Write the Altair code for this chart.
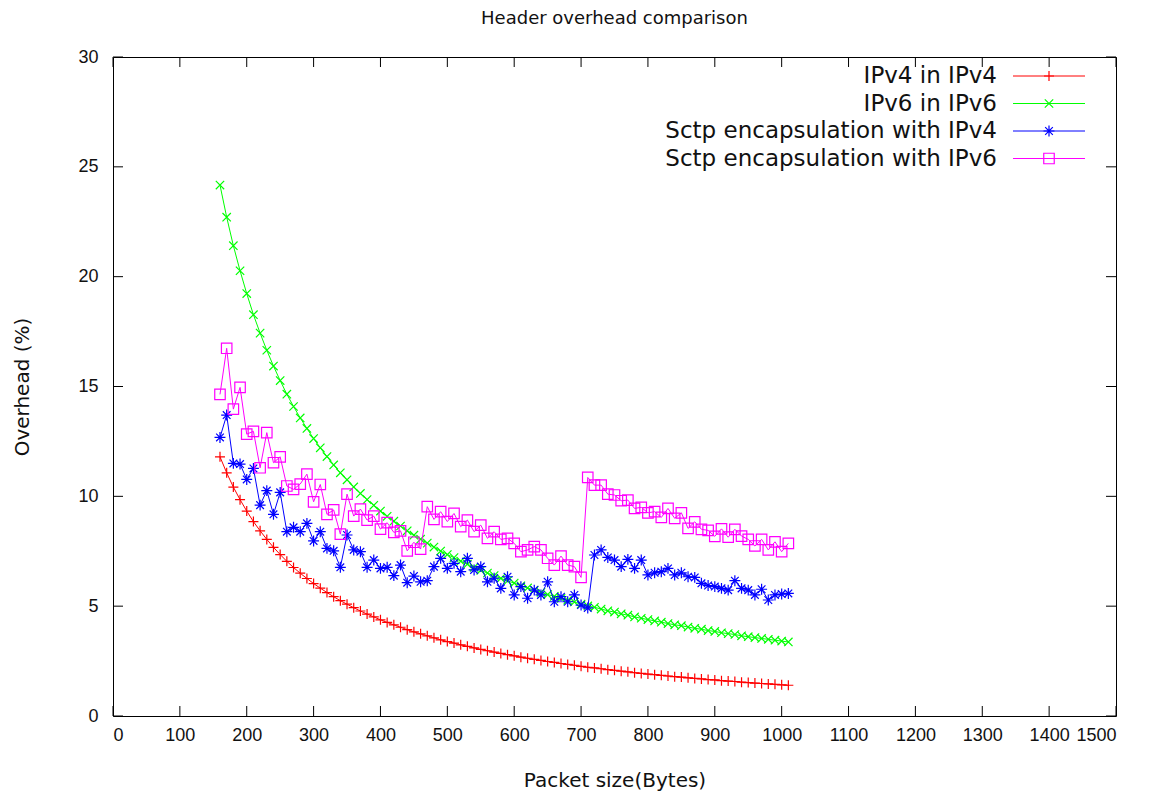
import altair as alt
import pandas as pd

# ---------------- data ----------------
packet_size = list(range(160, 1020, 10))

ipv4_in_ipv4 = [
    11.80, 11.07, 10.42, 9.85, 9.33, 8.85, 8.43, 8.04, 7.68, 7.35,
    7.04, 6.76, 6.50, 6.26, 6.03, 5.82, 5.62, 5.43, 5.25, 5.09,
    4.93, 4.78, 4.64, 4.51, 4.38, 4.26, 4.15, 4.04, 3.93, 3.83,
    3.74, 3.65, 3.56, 3.47, 3.39, 3.32, 3.24, 3.17, 3.10, 3.03,
    2.97, 2.91, 2.85, 2.79, 2.74, 2.68, 2.63, 2.58, 2.53, 2.48,
    2.44, 2.39, 2.35, 2.31, 2.26, 2.22, 2.19, 2.15, 2.11, 2.08,
    2.04, 2.01, 1.97, 1.94, 1.91, 1.88, 1.85, 1.82, 1.79, 1.77,
    1.74, 1.71, 1.69, 1.66, 1.64, 1.61, 1.59, 1.57, 1.54, 1.52,
    1.50, 1.48, 1.46, 1.44, 1.42, 1.40,
]

ipv6_in_ipv6 = [
    24.17, 22.71, 21.41, 20.27, 19.23, 18.27, 17.43, 16.65, 15.93, 15.27,
    14.65, 14.09, 13.57, 13.09, 12.63, 12.21, 11.81, 11.43, 11.07, 10.75,
    10.43, 10.13, 9.85, 9.59, 9.33, 9.09, 8.87, 8.65, 8.43, 8.23,
    8.05, 7.87, 7.69, 7.51, 7.35, 7.21, 7.05, 6.91, 6.77, 6.63,
    6.51, 6.39, 6.27, 6.15, 6.05, 5.93, 5.83, 5.73, 5.63, 5.53,
    5.45, 5.35, 5.27, 5.19, 5.09, 5.01, 4.95, 4.87, 4.79, 4.73,
    4.65, 4.59, 4.51, 4.45, 4.39, 4.33, 4.27, 4.21, 4.15, 4.11,
    4.05, 3.99, 3.95, 3.89, 3.85, 3.79, 3.75, 3.71, 3.65, 3.61,
    3.57, 3.53, 3.49, 3.45, 3.41, 3.37,
]

sctp_ipv4 = [
    12.68, 13.70, 11.50, 11.47, 10.77, 11.27, 9.60, 10.26, 9.18, 10.18,
    8.39, 8.59, 8.39, 8.77, 7.97, 8.39, 7.63, 7.52, 6.77, 8.24,
    7.56, 7.48, 6.77, 7.10, 6.72, 6.77, 6.39, 6.87, 6.07, 6.37,
    6.11, 6.16, 6.80, 7.18, 6.72, 6.95, 6.57, 7.18, 6.65, 6.80,
    6.11, 6.27, 5.81, 6.34, 5.51, 5.89, 5.36, 5.73, 5.51, 6.11,
    5.20, 5.43, 5.20, 5.51, 5.05, 4.92, 7.33, 7.56, 7.22, 7.10,
    6.80, 7.13, 6.72, 7.10, 6.42, 6.52, 6.57, 6.72, 6.42, 6.52,
    6.34, 6.31, 6.04, 5.94, 5.89, 5.81, 5.73, 6.16, 5.81, 5.73,
    5.51, 5.77, 5.28, 5.51, 5.55, 5.58,
]

sctp_ipv6 = [
    14.64, 16.74, 13.97, 14.96, 12.83, 12.96, 11.30, 12.90, 11.53, 11.80,
    10.47, 10.32, 10.56, 11.01, 9.75, 10.54, 9.18, 9.38, 8.28, 10.10,
    9.10, 9.42, 8.92, 9.10, 8.51, 8.80, 8.36, 8.43, 7.52, 7.91,
    7.60, 9.53, 8.95, 9.30, 8.85, 9.22, 8.62, 8.92, 8.39, 8.69,
    8.09, 8.39, 8.04, 8.09, 7.86, 7.48, 7.56, 7.71, 7.56, 7.18,
    6.87, 7.28, 6.87, 6.80, 6.31, 10.86, 10.51, 10.51, 10.10, 10.06,
    9.80, 9.83, 9.45, 9.50, 9.25, 9.30, 9.04, 9.45, 9.00, 9.25,
    8.54, 8.84, 8.50, 8.45, 8.18, 8.52, 8.14, 8.50, 8.19, 8.04,
    7.74, 8.04, 7.56, 7.93, 7.48, 7.86,
]

series_names = [
    "IPv4 in IPv4",
    "IPv6 in IPv6",
    "Sctp encapsulation with IPv4",
    "Sctp encapsulation with IPv6",
]
series_values = [ipv4_in_ipv4, ipv6_in_ipv6, sctp_ipv4, sctp_ipv6]
series_colors = ["#ff0000", "#00ff00", "#0000ff", "#ff00ff"]

x_ticks = list(range(0, 1600, 100))
y_ticks = [0, 5, 10, 15, 20, 25, 30]

# ---------------- styling ----------------
W, H = 1003, 659
FONT = "DejaVu Sans"
LABEL_FONT = "Liberation Sans"
TXT = "#111111"
TICK = 10
shapes = [
    "M-1,0H1M0,-1V1",
    "M-1,-1L1,1M-1,1L1,-1",
    "M-1,0H1M0,-1V1M-0.7,-0.7L0.7,0.7M-0.7,0.7L0.7,-0.7",
    "square",
]
sizes = [100, 70, 120, 110]

x_scale = alt.Scale(domain=[0, 1500], nice=False, zero=False)
y_scale = alt.Scale(domain=[0, 30], nice=False)

x_enc = alt.X(
    "x:Q", scale=x_scale,
    axis=alt.Axis(values=x_ticks, title="Packet size(Bytes)", format="d",
                  labelPadding=10, titlePadding=26, labelOverlap=False,
                  labelFlush=True),
)
y_enc = alt.Y(
    "y:Q", scale=y_scale,
    axis=alt.Axis(values=y_ticks, title="Overhead (%)", format="d",
                  labelPadding=15, titlePadding=45, labelOverlap=False),
)

layers = []

# inward tick marks on all four sides (gnuplot style, mirrored)
xt = pd.DataFrame({"x": x_ticks})
yt = pd.DataFrame({"y": y_ticks})
tick_style = dict(color="black", strokeWidth=1)
layers.append(alt.Chart(xt).mark_rule(**tick_style).encode(
    x=x_enc, y=alt.value(H), y2=alt.value(H - TICK)))
layers.append(alt.Chart(xt).mark_rule(**tick_style).encode(
    x=alt.X("x:Q", scale=x_scale), y=alt.value(0), y2=alt.value(TICK)))
layers.append(alt.Chart(yt).mark_rule(**tick_style).encode(
    y=y_enc, x=alt.value(0), x2=alt.value(TICK)))
layers.append(alt.Chart(yt).mark_rule(**tick_style).encode(
    y=alt.Y("y:Q", scale=y_scale), x=alt.value(W), x2=alt.value(W - TICK)))

# data series
for name, vals, col, shp, sz in zip(series_names, series_values,
                                     series_colors, shapes, sizes):
    df = pd.DataFrame({"x": packet_size, "y": vals})
    base = alt.Chart(df)
    layers.append(base.mark_line(color=col, strokeWidth=1).encode(
        x=alt.X("x:Q", scale=x_scale), y=alt.Y("y:Q", scale=y_scale)))
    layers.append(base.mark_point(shape=shp, size=sz, filled=False,
                                  color=col, strokeWidth=1.2, opacity=1).encode(
        x=alt.X("x:Q", scale=x_scale), y=alt.Y("y:Q", scale=y_scale)))

# legend (gnuplot style: text then sample line with marker)
LEG_TEXT_X = 884
LEG_LINE_X1, LEG_LINE_X2 = 900, 972
LEG_MARK_X = 936
LEG_Y0, LEG_DY = 19, 27.5
for i, (name, col, shp, sz) in enumerate(zip(series_names, series_colors,
                                              shapes, sizes)):
    ly = LEG_Y0 + i * LEG_DY
    ldf = pd.DataFrame({"label": [name]})
    lb = alt.Chart(ldf)
    layers.append(lb.mark_text(align="right", baseline="middle", font=FONT,
                               fontSize=23, color=TXT).encode(
        text="label:N", x=alt.value(LEG_TEXT_X), y=alt.value(ly)))
    layers.append(lb.mark_rule(color=col, strokeWidth=1).encode(
        x=alt.value(LEG_LINE_X1), x2=alt.value(LEG_LINE_X2), y=alt.value(ly)))
    layers.append(lb.mark_point(shape=shp, size=sz, filled=False, color=col,
                                strokeWidth=1.2, opacity=1).encode(
        x=alt.value(LEG_MARK_X), y=alt.value(ly)))

chart = alt.layer(*layers).properties(
    width=W,
    height=H,
    title=alt.TitleParams("Header overhead comparison", font=FONT,
                          fontSize=18, fontWeight="normal", color=TXT,
                          anchor="middle", offset=20),
    autosize=alt.AutoSizeParams(type="none"),
    padding={"left": 105, "top": 49, "right": 30, "bottom": 80},
).configure_view(
    stroke="black", strokeWidth=1
).configure_axis(
    domain=False, ticks=False, grid=False,
    labelFont=LABEL_FONT, labelFontSize=18, labelColor=TXT,
    titleFont=FONT, titleFontSize=20, titleFontWeight="normal",
    titleColor=TXT,
)

chart.save("out.html", embed_options={"renderer": "svg", "actions": False})
